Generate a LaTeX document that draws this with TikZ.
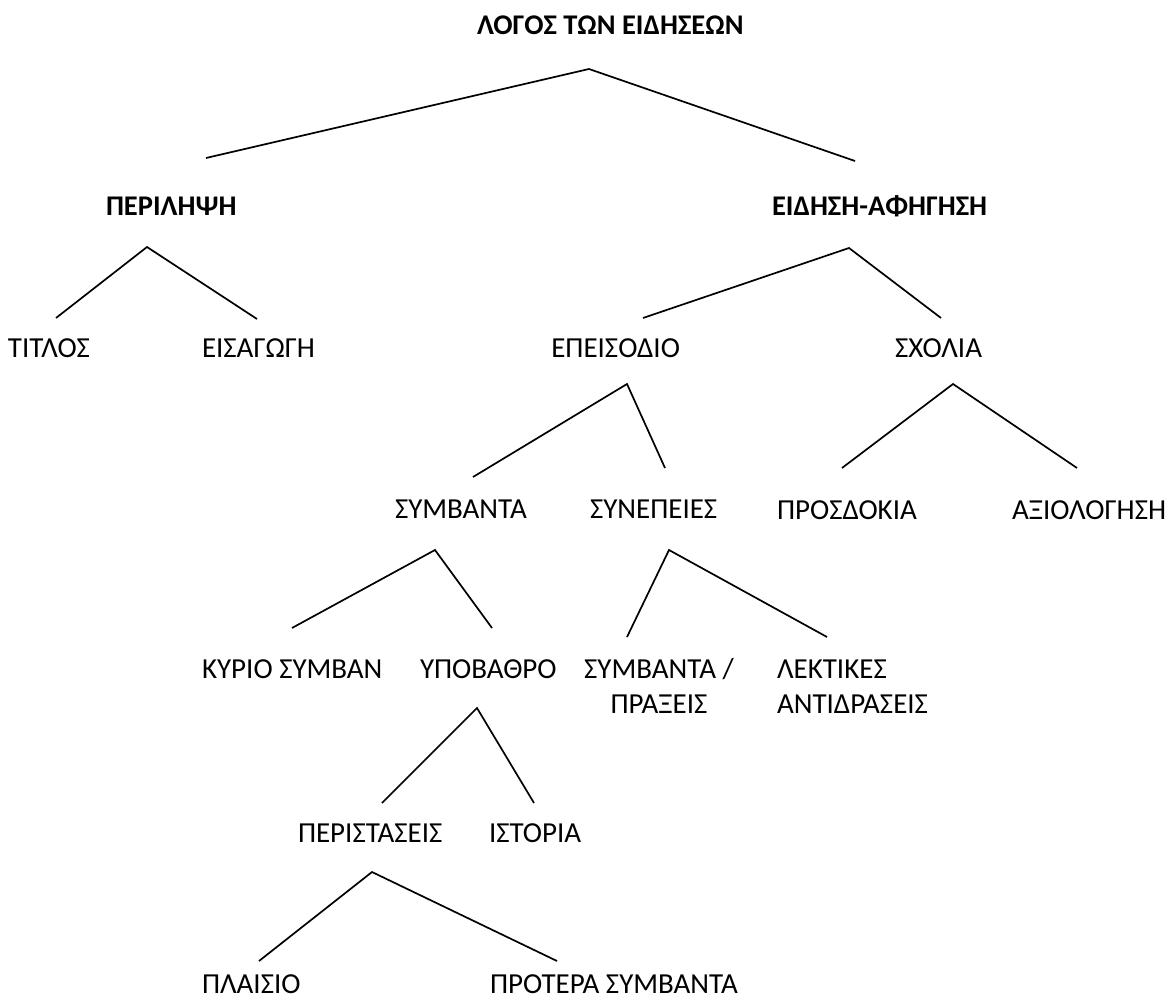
\documentclass[tikz,border=0pt]{standalone}
\usepackage{fontspec}
\setmainfont{Carlito}
\begin{document}
\begin{tikzpicture}[x=1pt,y=-1pt,
  every node/.style={inner sep=0pt, outer sep=0pt, font=\fontsize{29}{35}\selectfont},
  lbl/.style={anchor=base west},
  hd/.style={anchor=base west, font=\fontsize{28.5}{35}\selectfont\bfseries},
  branch/.style={line width=1.7pt, line join=miter}]
\useasboundingbox (0,0) rectangle (1169,1003);
% texts
\node[hd]  (logos) at (477,35)  {ΛΟΓΟΣ ΤΩΝ ΕΙΔΗΣΕΩΝ};
\node[hd]  (peri)  at (106,215) {ΠΕΡΙΛΗΨΗ};
\node[hd]  (eid)   at (772,215) {ΕΙΔΗΣΗ-ΑΦΗΓΗΣΗ};
\node[lbl] (tit)   at (8,357)   {ΤΙΤΛΟΣ};
\node[lbl] (eis)   at (202,357) {ΕΙΣΑΓΩΓΗ};
\node[anchor=base east] (epe) at (680,357) {ΕΠΕΙΣΟΔΙΟ};
\node[lbl] (sxo)   at (895,357) {ΣΧΟΛΙΑ};
\node[lbl] (symb)  at (395,518) {ΣΥΜΒΑΝΤΑ};
\node[lbl] (syne)  at (590,518) {ΣΥΝΕΠΕΙΕΣ};
\node[lbl] (pros)  at (777,519) {ΠΡΟΣΔΟΚΙΑ};
\node[lbl] (axio)  at (1012,519) {ΑΞΙΟΛΟΓΗΣΗ};
\node[lbl] (kyr)   at (202,678) {ΚΥΡΙΟ ΣΥΜΒΑΝ};
\node[lbl] (ypo)   at (420,678) {ΥΠΟΒΑΘΡΟ};
\node[anchor=base, align=center] (prax) at (659,713) {ΣΥΜΒΑΝΤΑ /\\ΠΡΑΞΕΙΣ};
\node[anchor=base west, align=left] (lekt) at (777,713) {ΛΕΚΤΙΚΕΣ\\ΑΝΤΙΔΡΑΣΕΙΣ};
\node[lbl] (peris) at (298,842) {ΠΕΡΙΣΤΑΣΕΙΣ};
\node[lbl] (ist)   at (489,842) {ΙΣΤΟΡΙΑ};
\node[lbl] (plai)  at (202,993) {ΠΛΑΙΣΙΟ};
\node[lbl] (prot)  at (490,993) {ΠΡΟΤΕΡΑ ΣΥΜΒΑΝΤΑ};
% branch points
\coordinate (logosA) at (589,69);  \coordinate (logosL) at (206,158); \coordinate (logosR) at (855,161);
\coordinate (periA) at (147,247);  \coordinate (periL) at (56,318);   \coordinate (periR) at (257,319);
\coordinate (eidA) at (849,248);   \coordinate (eidL) at (643,318);   \coordinate (eidR) at (941,318);
\coordinate (epeA) at (627,384);   \coordinate (epeL) at (473,477);   \coordinate (epeR) at (665,468);
\coordinate (sxoA) at (953,384);   \coordinate (sxoL) at (842,468);   \coordinate (sxoR) at (1077,468);
\coordinate (symbA) at (435,550);  \coordinate (symbL) at (292,628);  \coordinate (symbR) at (492,628);
\coordinate (syneA) at (669,550);  \coordinate (syneL) at (627,637);  \coordinate (syneR) at (827,637);
\coordinate (ypoA) at (477,708);   \coordinate (ypoL) at (382,803);   \coordinate (ypoR) at (534,803);
\coordinate (perisA) at (372,872); \coordinate (perisL) at (259,961); \coordinate (perisR) at (557,961);
% branches
\draw[branch] (logosL) -- (logosA) -- (logosR);
\draw[branch] (periL) -- (periA) -- (periR);
\draw[branch] (eidL) -- (eidA) -- (eidR);
\draw[branch] (epeL) -- (epeA) -- (epeR);
\draw[branch] (sxoL) -- (sxoA) -- (sxoR);
\draw[branch] (symbL) -- (symbA) -- (symbR);
\draw[branch] (syneL) -- (syneA) -- (syneR);
\draw[branch] (ypoL) -- (ypoA) -- (ypoR);
\draw[branch] (perisL) -- (perisA) -- (perisR);
\end{tikzpicture}
\end{document}
